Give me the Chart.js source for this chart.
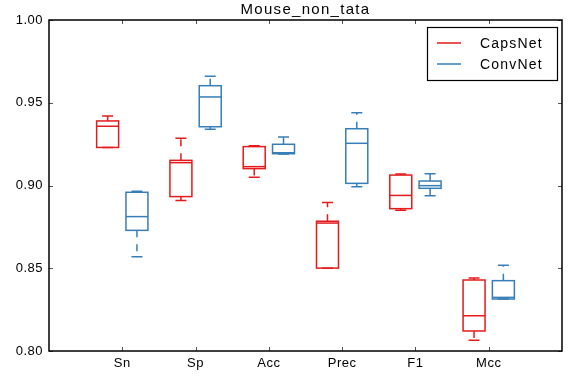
<!DOCTYPE html>
<html>
<head>
<meta charset="utf-8">
<script src="https://cdn.jsdelivr.net/npm/chart.js@4/dist/chart.umd.min.js"></script>
<style>
  html, body { margin: 0; padding: 0; background: #fff; }
  canvas { display: block; }
</style>
</head>
<body>
<canvas id="chart" width="576" height="384"></canvas>
<script>
const categories = ['Sn', 'Sp', 'Acc', 'Prec', 'F1', 'Mcc'];
const yTicks = [0.80, 0.85, 0.90, 0.95, 1.00];

// CapsNet box stats: whisker low, q1, median, q3, whisker high
const capsLow = [0.923, 0.891, 0.905, 0.850, 0.885, 0.8065];
const capsQ1 = [0.923, 0.8933, 0.9102, 0.8501, 0.886, 0.8121];
const capsMed = [0.9358, 0.9138, 0.9114, 0.8773, 0.894, 0.8213];
const capsQ3 = [0.939, 0.9152, 0.9235, 0.8784, 0.9063, 0.8429];
const capsHigh = [0.942, 0.9285, 0.924, 0.8898, 0.907, 0.8441];

// ConvNet box stats
const convLow = [0.857, 0.934, 0.919, 0.8993, 0.8938, 0.8314];
const convQ1 = [0.8729, 0.9355, 0.9192, 0.9013, 0.8983, 0.8314];
const convMed = [0.8812, 0.9535, 0.9198, 0.9255, 0.8999, 0.8324];
const convQ3 = [0.8959, 0.9603, 0.9249, 0.9343, 0.9027, 0.8425];
const convHigh = [0.8965, 0.966, 0.9293, 0.944, 0.9071, 0.8518];

const RED = '#e41a1c';
const BLUE = '#377eb8';
const FONT = '"Liberation Sans", Arial, sans-serif';

const series = [
  { label: 'CapsNet', color: RED, offset: -0.2, low: capsLow, q1: capsQ1, med: capsMed, q3: capsQ3, high: capsHigh },
  { label: 'ConvNet', color: BLUE, offset: 0.2, low: convLow, q1: convQ1, med: convMed, q3: convQ3, high: convHigh },
];

const boxWidth = 0.3;

const boxPlugin = {
  id: 'boxes',
  beforeDraw(chart) {
    chart.ctx.letterSpacing = '0.5px';
  },
  afterDatasetsDraw(chart) {
    const { ctx, chartArea, scales } = chart;
    const x = scales.x;
    const y = scales.y;

    ctx.save();
    ctx.lineWidth = 1.5;
    series.forEach((s) => {
      ctx.strokeStyle = s.color;
      categories.forEach((_, i) => {
        const c = i + 1 + s.offset;
        const left = x.getPixelForValue(c - boxWidth / 2);
        const right = x.getPixelForValue(c + boxWidth / 2);
        const mid = x.getPixelForValue(c);
        const capL = x.getPixelForValue(c - boxWidth / 4);
        const capR = x.getPixelForValue(c + boxWidth / 4);
        const yLow = y.getPixelForValue(s.low[i]);
        const yQ1 = y.getPixelForValue(s.q1[i]);
        const yMed = y.getPixelForValue(s.med[i]);
        const yQ3 = y.getPixelForValue(s.q3[i]);
        const yHigh = y.getPixelForValue(s.high[i]);

        // box
        ctx.setLineDash([]);
        ctx.strokeRect(left, yQ3, right - left, yQ1 - yQ3);
        // median
        ctx.beginPath();
        ctx.moveTo(left, yMed);
        ctx.lineTo(right, yMed);
        ctx.stroke();
        // caps
        ctx.beginPath();
        ctx.moveTo(capL, yLow);
        ctx.lineTo(capR, yLow);
        ctx.moveTo(capL, yHigh);
        ctx.lineTo(capR, yHigh);
        ctx.stroke();
        // dashed whiskers
        ctx.setLineDash([7, 7]);
        ctx.beginPath();
        ctx.moveTo(mid, yQ1);
        ctx.lineTo(mid, yLow);
        ctx.moveTo(mid, yQ3);
        ctx.lineTo(mid, yHigh);
        ctx.stroke();
      });
    });
    ctx.setLineDash([]);

    // inward ticks
    ctx.strokeStyle = '#555';
    ctx.lineWidth = 1;
    ctx.beginPath();
    categories.forEach((_, i) => {
      const px = Math.round(x.getPixelForValue(i + 1)) + 0.5;
      ctx.moveTo(px, chartArea.bottom);
      ctx.lineTo(px, chartArea.bottom - 4);
      ctx.moveTo(px, chartArea.top);
      ctx.lineTo(px, chartArea.top + 4);
    });
    yTicks.forEach((v) => {
      const py = Math.round(y.getPixelForValue(v)) + 0.5;
      ctx.moveTo(chartArea.left, py);
      ctx.lineTo(chartArea.left + 4, py);
      ctx.moveTo(chartArea.right, py);
      ctx.lineTo(chartArea.right - 4, py);
    });
    ctx.stroke();

    // frame
    ctx.strokeStyle = '#000';
    ctx.lineWidth = 1.5;
    ctx.strokeRect(chartArea.left, chartArea.top, chartArea.right - chartArea.left, chartArea.bottom - chartArea.top);

    // title
    ctx.fillStyle = '#000';
    ctx.font = '15px ' + FONT;
    ctx.letterSpacing = '1.3px';
    ctx.textAlign = 'center';
    ctx.textBaseline = 'alphabetic';
    ctx.fillText('Mouse_non_tata', (chartArea.left + chartArea.right) / 2, 14);

    // legend
    const lx = 427.5;
    const ly = 27.5;
    ctx.fillStyle = '#fff';
    ctx.fillRect(lx, ly, 130, 53);
    ctx.strokeStyle = '#000';
    ctx.lineWidth = 1.2;
    ctx.strokeRect(lx, ly, 130, 53);
    ctx.font = '14px ' + FONT;
    ctx.letterSpacing = '1.2px';
    ctx.textAlign = 'left';
    ctx.textBaseline = 'middle';
    series.forEach((s, k) => {
      const rowY = 43 + k * 21;
      ctx.strokeStyle = s.color;
      ctx.lineWidth = 1.5;
      ctx.beginPath();
      ctx.moveTo(437, rowY);
      ctx.lineTo(461, rowY);
      ctx.stroke();
      ctx.fillStyle = '#000';
      ctx.fillText(s.label, 480, rowY + 1);
    });
    ctx.restore();
  },
};

new Chart(document.getElementById('chart'), {
  type: 'scatter',
  data: {
    datasets: series.map((s) => ({ label: s.label, data: [], borderColor: s.color })),
  },
  options: {
    responsive: false,
    animation: false,
    layout: { padding: { top: 20, right: 14, bottom: 0, left: 0 } },
    plugins: {
      legend: { display: false },
      title: { display: false },
      tooltip: { enabled: false },
    },
    scales: {
      x: {
        type: 'linear',
        min: 0,
        max: 7,
        afterBuildTicks(scale) {
          scale.ticks = categories.map((_, i) => ({ value: i + 1 }));
        },
        afterFit(scale) {
          scale.height = 33;
        },
        grid: { display: false, drawTicks: false },
        border: { display: false },
        ticks: {
          padding: 5,
          color: '#000',
          font: { family: FONT, size: 13 },
          callback: (v) => categories[v - 1] ?? '',
        },
      },
      y: {
        type: 'linear',
        min: 0.8,
        max: 1.0,
        afterBuildTicks(scale) {
          scale.ticks = yTicks.map((v) => ({ value: v }));
        },
        afterFit(scale) {
          scale.width = 49;
        },
        grid: { display: false, drawTicks: false },
        border: { display: false },
        ticks: {
          padding: 6,
          color: '#000',
          font: { family: FONT, size: 13 },
          callback: (v) => Number(v).toFixed(2),
        },
      },
    },
  },
  plugins: [boxPlugin],
});
</script>
</body>
</html>
